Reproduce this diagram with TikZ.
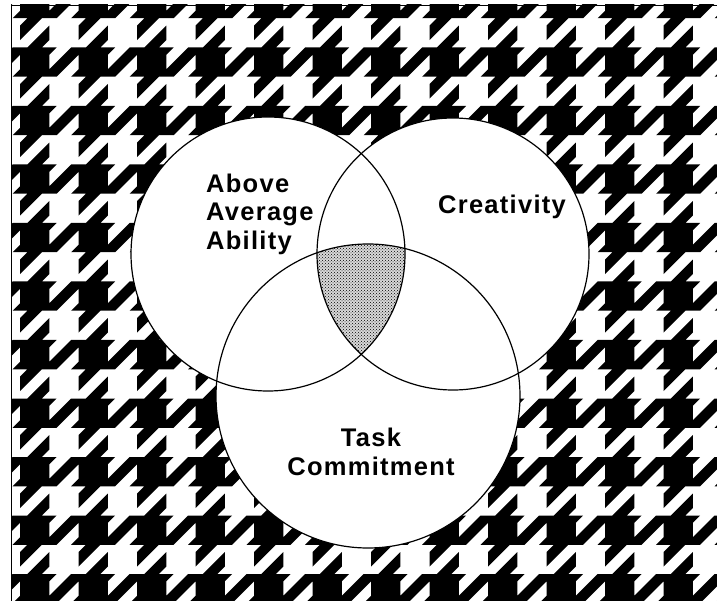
\documentclass[tikz,border=0pt]{standalone}
\usepackage{fontspec}
\setmainfont{Liberation Sans}
\newfontfamily\vennfont[LetterSpace=5]{Liberation Sans}
\usetikzlibrary{patterns}
\definecolor{DotClr}{rgb}{0,0,0}

\begin{document}
\begin{tikzpicture}[x=1pt,y=-1pt,
  ring/.style={line width=1.2pt,draw=black},
  venntext/.style={font=\vennfont\bfseries\fontsize{25.5}{28.5}\selectfont,align=center,inner sep=0pt}]
\useasboundingbox (0,0) rectangle (717,601);
\fill[white] (0,0) rectangle (717,601);

\coordinate (FrameTL) at (11,5);
\coordinate (FrameBR) at (717,601);

\begin{scope}
\clip (FrameTL) rectangle (FrameBR);
\begin{scope}[xshift=20pt,yshift=11pt,x=7.3125pt,y=-7.3125pt]
\fill[black] \foreach \x in {-8,0,...,96} {\foreach \y in {-8,0,...,80} {
  (\x,\y) -- (\x+1,\y) -- (\x+4,\y-3) -- (\x+4,\y-1) -- (\x+3,\y) -- (\x+5,\y)
  -- (\x+4,\y+1) -- (\x+4,\y+3) -- (\x+7,\y) -- (\x+8,\y) -- (\x+8,\y+1)
  -- (\x+5,\y+4) -- (\x+3,\y+4) -- (\x,\y+7) -- (\x,\y+5) -- (\x+1,\y+4)
  -- (\x,\y+4) -- (\x-1,\y+4) -- (\x,\y+3) -- cycle}};
\end{scope}
\end{scope}
\draw[line width=0.8pt] (11,601) -- (FrameTL) -- (717,5);

\coordinate (ability) at (268,254);
\coordinate (creativity) at (453,254);
\coordinate (task) at (368,396);

\fill[white] (ability) circle (137) (creativity) circle (136) (task) circle (152);

\begin{scope}
\clip (ability) circle (137);
\clip (creativity) circle (136);
\fill[gray!30] (task) circle (152);
\fill[pattern=crosshatch dots,pattern color=DotClr] (task) circle (152);
\end{scope}

\draw[ring] (ability) circle (137);
\draw[ring] (creativity) circle (136);
\draw[ring] (task) circle (152);

\node[venntext,align=left,anchor=west] (abilitytext) at (206,214) {Above\\Average\\Ability};
\node[venntext] (creativitytext) at (502,207) {Creativity};
\node[venntext] (tasktext) at (371,452) {Task\\Commitment};

\end{tikzpicture}
\end{document}
